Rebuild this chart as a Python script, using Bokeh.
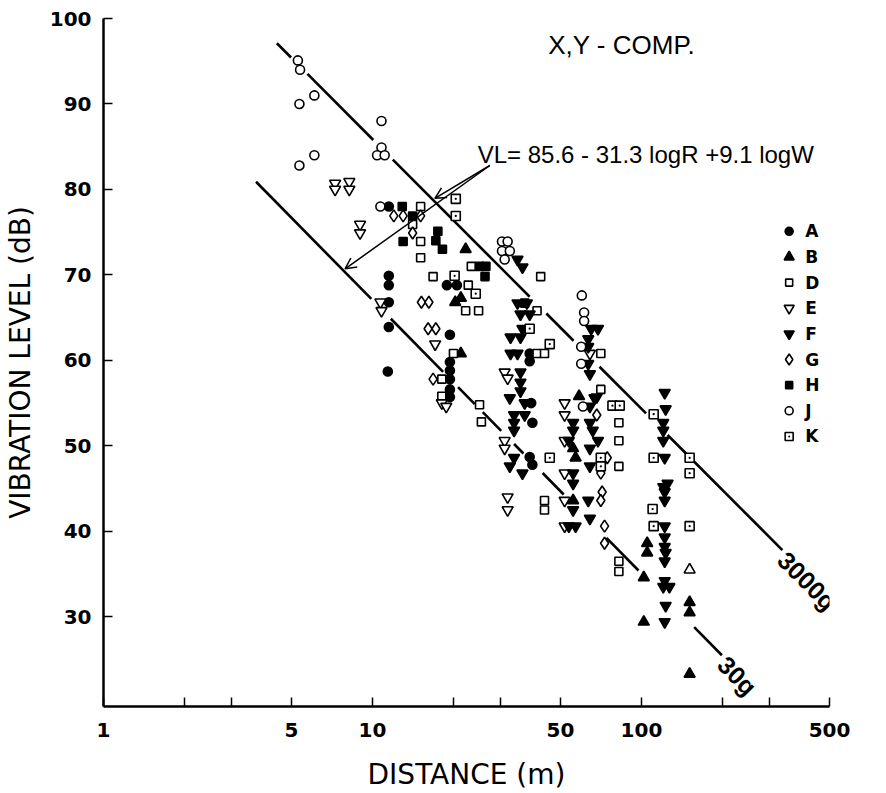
import math
from bokeh.plotting import figure
from bokeh.models import FixedTicker, Arrow, OpenHead, Range1d
from bokeh.core.properties import value
from bokeh.embed import file_html
from bokeh.resources import INLINE

# ---------------- data ----------------
A_R = [11.5, 11.5, 11.5, 11.5, 11.5, 11.4, 18.9, 20.6, 19.4, 19.4, 19.4, 19.4, 19.4, 19.4,
       38.4, 38.4, 38.9, 39.3, 38.4, 39.3]
A_VL = [78.0, 69.9, 68.8, 66.8, 63.9, 58.7, 68.8, 68.8, 63.0, 59.8, 58.8, 57.8, 56.6, 55.7,
        60.8, 59.9, 55.0, 52.7, 48.7, 47.8]

B_R = [22.2, 20.3, 21.3, 21.3, 58.6, 55.7, 56.9, 55.7, 105, 105, 102, 102, 151, 151, 151]
B_VL = [73.0, 66.8, 67.3, 60.8, 55.8, 49.7, 48.6, 43.6, 38.6, 37.5, 34.6, 29.4, 31.7, 30.5, 23.3]

D_R = [15.1, 14.1, 15.1, 15.1, 23.3, 16.8, 22.7, 22.2, 24.8, 20.0, 42.2, 40.9, 40.9, 43.6,
       18.1, 18.1, 25.0, 25.4, 43.6, 43.6, 70.6, 70.6, 82.4, 82.4, 82.4, 82.4, 82.4]
D_VL = [78.0, 75.9, 73.9, 72.0, 71.0, 69.8, 68.8, 65.8, 65.8, 60.8, 69.8, 65.8, 60.8, 60.8,
        57.8, 55.8, 54.8, 52.8, 43.6, 42.5, 60.8, 56.6, 52.7, 50.6, 47.6, 36.5, 35.3]

E_R = [7.26, 7.26, 8.2, 8.2, 8.99, 8.99, 10.7, 10.8, 17.1, 18.1, 18.8, 31.0, 31.8, 31.0, 31.0,
       31.8, 31.8, 51.8, 51.8, 51.8, 51.8, 51.8, 51.8, 64.3]
E_VL = [80.7, 80.0, 80.9, 80.0, 75.9, 74.9, 66.8, 65.8, 61.9, 55.0, 54.6, 58.6, 57.9, 50.6, 49.7,
        44.0, 42.5, 55.0, 53.6, 50.6, 46.8, 43.6, 40.6, 60.8]

F_R = [34.6, 36.1, 34.6, 37.5, 35.5, 38.4, 32.6, 35.5, 36.1, 32.6, 34.6, 35.5, 35.5, 35.5, 32.4,
       36.8, 33.6, 36.8, 33.6, 33.6, 33.6, 32.4, 36.1,
       65.0, 68.9, 63.4, 63.4, 63.4, 64.3, 68.2, 64.3, 66.9, 55.7, 55.7, 64.3, 65.9, 68.9, 53.7,
       64.3, 64.3, 55.7, 55.7, 63.4, 55.7, 64.3, 53.7, 56.9,
       122, 123, 120.5, 120.5, 120.5, 122, 125, 120.5, 122, 122, 122, 122, 122, 123, 122, 122,
       127, 120.5, 123, 122]
F_VL = [71.8, 70.9, 66.7, 66.7, 65.4, 65.4, 62.7, 62.7, 63.7, 60.8, 60.8, 58.6, 57.4, 56.4, 55.6,
        55.0, 53.6, 53.6, 52.7, 51.8, 48.6, 47.6, 46.8,
        63.7, 63.7, 62.5, 61.6, 59.6, 58.4, 55.7, 54.6, 55.6, 52.7, 51.8, 52.7, 51.8, 50.6, 50.6,
        49.7, 47.6, 46.8, 45.6, 43.6, 42.5, 41.5, 40.6, 40.6,
        56.2, 54.3, 52.7, 51.8, 50.6, 48.6, 45.6, 45.2, 44.6, 43.6, 40.6, 39.3, 38.2, 37.5, 36.5,
        34.2, 33.5, 33.5, 31.3, 29.4]

G_R = [12.0, 13.0, 15.1, 14.1, 15.2, 16.2, 16.1, 17.2, 16.8, 68.2, 74.6, 70.6, 71.4, 70.6, 72.9, 72.9]
G_VL = [76.9, 76.9, 76.9, 74.9, 66.8, 66.8, 63.7, 63.7, 57.8, 53.6, 48.6, 46.8, 44.6, 43.6, 40.6, 38.6]

H_R = [12.9, 14.1, 13.0, 17.5, 17.2, 18.2, 25.0, 26.4, 26.2, 36.8]
H_VL = [78.0, 76.9, 73.9, 75.1, 74.0, 73.0, 71.0, 71.0, 69.8, 66.7]

J_R = [5.28, 5.38, 6.08, 5.35, 10.8, 10.8, 10.4, 11.1, 6.08, 5.35, 10.7, 30.3, 31.8, 30.3, 32.4,
       31.0, 60.0, 61.2, 61.2, 59.7, 59.7, 60.6]
J_VL = [95.1, 94.0, 91.0, 90.0, 88.0, 84.9, 84.0, 84.0, 84.0, 82.8, 78.0, 73.9, 73.9, 72.8, 72.8,
        71.8, 67.6, 65.6, 64.6, 61.6, 59.6, 54.6]

K_R = [20.4, 20.4, 20.2, 24.2, 38.4, 45.6, 45.6, 78, 83, 70.6, 70.6, 111, 111, 151, 151, 110, 111, 151]
K_VL = [78.9, 76.9, 69.9, 67.8, 63.7, 61.9, 48.6, 54.7, 54.7, 48.6, 47.6, 53.7, 48.6, 48.6, 46.8,
        42.6, 40.6, 40.6]

OPEN_UP_R = [151]
OPEN_UP_VL = [35.5]

series_names = ["A", "B", "D", "E", "F", "G", "H", "J", "K"]

# regression lines: drawn end points (R, VL) and the visible pieces (R ranges)
upper_end_R = [4.41, 334]
upper_end_VL = [97.1, 37.8]
upper_pieces = [(4.41, 4.98), (5.73, 10.07), (11.9, 38.4), (44.3, 55.9), (69.8, 104), (125, 334)]
lower_end_R = [3.69, 199]
lower_end_VL = [80.9, 25.5]
lower_pieces = [(3.69, 9.9), (11.7, 18.3), (20.8, 24.0), (25.7, 30.1), (33.6, 36.4),
                (42.9, 51.4), (74.1, 97.5), (157, 199)]

x_ticks = [1, 2, 3, 5, 10, 20, 30, 50, 100, 200, 300, 500]
x_tick_labels = ["1", "", "", "5", "10", "", "", "50", "100", "", "", "500"]
y_ticks = [30, 40, 50, 60, 70, 80, 90, 100]

# ---------------- figure ----------------
p = figure(width=886, height=793, x_axis_type="log",
           x_range=Range1d(1, 500), y_range=Range1d(19.5, 100),
           output_backend="svg", toolbar_location=None,
           min_border_left=103, min_border_right=57, min_border_top=18, min_border_bottom=85)
p.outline_line_color = None
p.xgrid.grid_line_color = None
p.ygrid.grid_line_color = None
p.background_fill_color = "white"
p.border_fill_color = "white"

for ax in (p.xaxis, p.yaxis):
    ax.axis_line_width = 2.5
    ax.axis_line_color = "black"
    ax.major_tick_in = 9
    ax.major_tick_out = 0
    ax.major_tick_line_width = 1.5
    ax.minor_tick_line_color = None
    ax.major_label_text_font = "DejaVu Sans"
    ax.major_label_text_font_style = "bold"
    ax.major_label_text_font_size = "20px"
    ax.major_label_text_color = "black"
    ax.axis_label_text_font = "DejaVu Sans"
    ax.axis_label_text_font_style = "normal"
    ax.axis_label_text_font_size = "28px"
    ax.axis_label_text_color = "black"

p.xaxis.ticker = FixedTicker(ticks=x_ticks)
p.xaxis.major_label_overrides = dict(zip(x_ticks, x_tick_labels))
p.xaxis.major_label_standoff = 16
p.xaxis.axis_label = "DISTANCE (m)"
p.xaxis.axis_label_standoff = 18

p.yaxis.ticker = FixedTicker(ticks=y_ticks)
p.yaxis.major_label_standoff = 12
p.yaxis.axis_label = "VIBRATION LEVEL (dB)"
p.yaxis.axis_label_standoff = 10


def line_vl(r, er, ev):
    t = (math.log10(r) - math.log10(er[0])) / (math.log10(er[1]) - math.log10(er[0]))
    return ev[0] + t * (ev[1] - ev[0])


for pieces, er, ev in ((upper_pieces, upper_end_R, upper_end_VL),
                       (lower_pieces, lower_end_R, lower_end_VL)):
    xs = [[a, b] for a, b in pieces]
    ys = [[line_vl(a, er, ev), line_vl(b, er, ev)] for a, b in pieces]
    p.multi_line(xs, ys, line_color="black", line_width=2.6)

styles = {
    "A": dict(marker="circle", size=9, fill_color="black"),
    "B": dict(marker="triangle", size=11, fill_color="black"),
    "D": dict(marker="square", size=8, fill_color="white"),
    "E": dict(marker="inverted_triangle", size=11, fill_color="white"),
    "F": dict(marker="inverted_triangle", size=11, fill_color="black"),
    "G": dict(marker="diamond", size=12, fill_color="white"),
    "H": dict(marker="square", size=8, fill_color="black"),
    "J": dict(marker="circle", size=9, fill_color="white"),
    "K": dict(marker="square_dot", size=9, fill_color="white"),
}
data = {"A": (A_R, A_VL), "B": (B_R, B_VL), "D": (D_R, D_VL), "E": (E_R, E_VL),
        "F": (F_R, F_VL), "G": (G_R, G_VL), "H": (H_R, H_VL), "J": (J_R, J_VL),
        "K": (K_R, K_VL)}

for name in series_names:
    xr, yv = data[name]
    st = styles[name]
    p.scatter(xr, yv, marker=st["marker"], size=st["size"], fill_color=st["fill_color"],
              line_color="black", line_width=1.6)

p.scatter(OPEN_UP_R, OPEN_UP_VL, marker="triangle", size=11, fill_color="white",
          line_color="black", line_width=1.6)

# legend (manual, as in the original)
leg_R, leg_label_R = 354, 406
leg_top, leg_step = 75.1, 3.0
for i, name in enumerate(series_names):
    st = styles[name]
    yy = leg_top - i * leg_step
    p.scatter([leg_R], [yy], marker=st["marker"], size=st["size"] - 1,
              fill_color=st["fill_color"], line_color="black", line_width=1.6)
    p.text([leg_label_R], [yy], text=[name], text_font=value("DejaVu Sans"),
           text_font_style="bold", text_font_size="17px", text_baseline="middle",
           text_align="left", text_color="black")

# annotations
p.text([45.0], [96.9], text=["X,Y - COMP."], text_font=value("Liberation Sans"),
       text_font_size="26px", text_baseline="middle", text_align="left", text_color="black")
p.text([24.6], [84.05], text=["VL= 85.6 - 31.3 logR +9.1 logW"],
       text_font=value("Liberation Sans"), text_font_size="24px", text_baseline="middle",
       text_align="left", text_color="black")

arrow_from = (27.3, 82.8)
for tip_R, er, ev in ((17.06, upper_end_R, upper_end_VL), (7.91, lower_end_R, lower_end_VL)):
    p.add_layout(Arrow(end=OpenHead(size=11, line_width=1.5, line_color="black"),
                       x_start=arrow_from[0], y_start=arrow_from[1],
                       x_end=tip_R, y_end=line_vl(tip_R, er, ev) + 0.4,
                       line_width=1.5, line_color="black"))

p.text([413], [34.2], text=["3000g"], angle=-math.pi / 4, text_font=value("Liberation Sans"),
       text_font_style="bold", text_font_size="25px", text_baseline="middle",
       text_align="center", text_color="black")
p.text([227], [23.1], text=["30g"], angle=-math.pi / 4, text_font=value("Liberation Sans"),
       text_font_style="bold", text_font_size="25px", text_baseline="middle",
       text_align="center", text_color="black")

open("out.html", "w").write(file_html(p, INLINE))
